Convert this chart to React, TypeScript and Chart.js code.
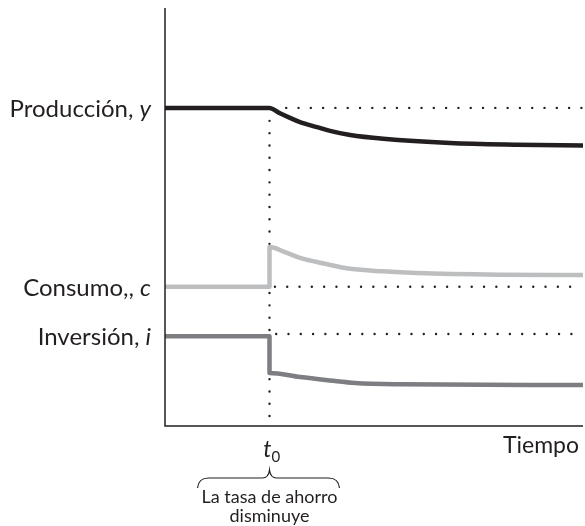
import React, { useEffect, useRef } from "react";
import { Chart, registerables } from "chart.js";

Chart.register(...registerables);

// Time axis (0..100), saving-rate cut at t0 = 25
const T0 = 25;

// Output, y
const prodT = [0, 25, 27.5, 29.9, 32.3, 36.4, 39.5, 44.3, 52.2, 68.2, 84.2, 100];
const prodV = [76.1, 76.1, 74.8, 73.7, 72.7, 71.5, 70.6, 69.6, 68.7, 67.7, 67.3, 67.1];

// Consumption, c
const consT = [0, 25, 25, 28.7, 32.3, 38.3, 44.3, 52.2, 60.3, 80.1, 100];
const consV = [33.3, 33.3, 42.8, 41.6, 40.2, 38.8, 37.6, 37.0, 36.6, 36.2, 36.1];

// Investment, i
const invT = [0, 25, 25, 32.3, 39.5, 45.5, 56.2, 100];
const invV = [21.5, 21.5, 12.7, 11.7, 10.9, 10.3, 10.0, 9.8];

// Dotted reference levels (old steady state) and t0 marker
const prodRefT = [29, 100];
const consRefT = [26.3, 97.1];
const invRefT = [26.6, 100];
const invRefLevel = 22.0;
const t0LineV = [73, 0];

const labels = [
  { main: "Producción, ", v: "y", level: prodV[0] },
  { main: "Consumo,, ", v: "c", level: consV[0] },
  { main: "Inversión, ", v: "i", level: invV[0] },
];
const xAxisLabel = "Tiempo";
const t0Label = "t";
const t0Sub = "0";
const braceText = ["La tasa de ahorro", "disminuye"];

const FONT = "Lato, 'Open Sans', sans-serif";

const zip = (xs: number[], ys: number[]) => xs.map((x, i) => ({ x, y: ys[i] }));

export default function App() {
  const ref = useRef<HTMLCanvasElement>(null);
  useEffect(() => {
    if (!ref.current) return;
    const ink = "#231f20";
    const overlay = {
      id: "overlay",
      afterDraw(chart: any) {
        const ctx = chart.ctx;
        const xs = chart.scales.x;
        const ys = chart.scales.y;
        const { left, right, top, bottom } = chart.chartArea;
        ctx.save();
        // axes
        ctx.strokeStyle = ink;
        ctx.lineWidth = 1.5;
        ctx.beginPath();
        ctx.moveTo(left, top);
        ctx.lineTo(left, bottom);
        ctx.lineTo(right, bottom);
        ctx.stroke();
        // left labels
        ctx.fillStyle = ink;
        ctx.textBaseline = "middle";
        ctx.textAlign = "left";
        const rightEdge = left - 14;
        labels.forEach((l) => {
          const y = ys.getPixelForValue(l.level) + 1;
          ctx.font = `italic 24px ${FONT}`;
          const wv = ctx.measureText(l.v).width;
          ctx.font = `24px ${FONT}`;
          const wm = ctx.measureText(l.main).width;
          const x0 = rightEdge - wv - wm;
          ctx.fillText(l.main, x0, y);
          ctx.font = `italic 24px ${FONT}`;
          ctx.fillText(l.v, x0 + wm, y);
        });
        // t0
        const tx = xs.getPixelForValue(T0);
        ctx.textBaseline = "alphabetic";
        ctx.font = `italic 23px ${FONT}`;
        ctx.textAlign = "right";
        ctx.fillText(t0Label, tx + 2, bottom + 31);
        ctx.font = `15px ${FONT}`;
        ctx.textAlign = "left";
        ctx.fillText(t0Sub, tx + 2, bottom + 36);
        // Tiempo
        ctx.font = `23px ${FONT}`;
        ctx.textAlign = "right";
        ctx.fillText(xAxisLabel, right - 4, bottom + 27);
        // brace
        ctx.lineWidth = 1.2;
        ctx.beginPath();
        const bl = tx - 72, br = tx + 70, by = bottom + 52, tipY = bottom + 44;
        ctx.moveTo(bl, by + 10);
        ctx.quadraticCurveTo(bl + 1, by, bl + 11, by);
        ctx.lineTo(tx - 7, by);
        ctx.quadraticCurveTo(tx - 1, by, tx, tipY);
        ctx.quadraticCurveTo(tx + 1, by, tx + 7, by);
        ctx.lineTo(br - 11, by);
        ctx.quadraticCurveTo(br - 1, by, br, by + 10);
        ctx.stroke();
        ctx.font = `18px ${FONT}`;
        ctx.textAlign = "center";
        ctx.fillText(braceText[0], tx, bottom + 77);
        ctx.fillText(braceText[1], tx, bottom + 96);
        ctx.restore();
      },
    };
    const dotted = {
      borderColor: ink,
      borderWidth: 2.4,
      borderDash: [0, 12.3],
      borderCapStyle: "round" as const,
      pointRadius: 0,
      fill: false,
      tension: 0,
    };
    const solid = {
      borderWidth: 4.5,
      pointRadius: 0,
      fill: false,
      cubicInterpolationMode: "monotone" as const,
      borderJoinStyle: "round" as const,
      borderCapStyle: "butt" as const,
    };
    const chart = new Chart(ref.current, {
      type: "line",
      data: {
        datasets: [
          { ...solid, data: zip(prodT, prodV), borderColor: ink },
          { ...solid, data: zip(consT, consV), borderColor: "#bcbec0" },
          { ...solid, data: zip(invT, invV), borderColor: "#7d7e81" },
          { ...dotted, data: zip(prodRefT, prodRefT.map(() => prodV[0])) },
          { ...dotted, data: zip(consRefT, consRefT.map(() => consV[0])) },
          { ...dotted, data: zip(invRefT, invRefT.map(() => invRefLevel)) },
          { ...dotted, data: zip([T0, T0], t0LineV) },
        ] as any,
      },
      options: {
        animation: false,
        responsive: false,
        maintainAspectRatio: false,
        layout: { padding: { left: 165, right: 2, top: 8, bottom: 100 } },
        plugins: { legend: { display: false }, tooltip: { enabled: false } },
        scales: {
          x: { type: "linear", min: 0, max: 100, display: false },
          y: { type: "linear", min: 0, max: 100, display: false },
        },
      },
      plugins: [overlay],
    });
    return () => chart.destroy();
  }, []);
  return (
    <div style={{ position: "absolute", left: 0, top: 0, width: 585, height: 526, background: "#fff" }}>
      <canvas ref={ref} width={585} height={526} style={{ width: 585, height: 526 }} />
    </div>
  );
}
